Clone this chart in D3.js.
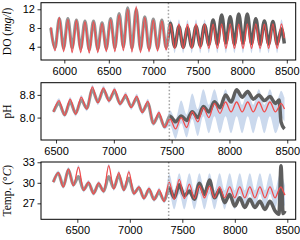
<!DOCTYPE html>
<html>
<head>
<meta charset="utf-8">
<script src="https://cdn.jsdelivr.net/npm/d3@7"></script>
<style>
  body { margin: 0; background: #fff; }
  svg { display: block; font-family: "Liberation Serif", "DejaVu Serif", serif; }
  .tick text { font-size: 11px; fill: #000; }
  .tick line { stroke: #000; stroke-width: 0.8; }
  .ylab { font-size: 11.5px; }
</style>
</head>
<body>
<div id="chart"></div>
<script>
// ---- DO panel (values read at the daily highs / lows, 48 steps apart) ----
const doTimes = d3.range(5848, 8441, 48).concat([8472]);
const doObs = [8.0, 3.8, 10.0, 3.7, 10.0, 3.8, 9.7, 3.6, 9.5, 3.4, 9.5, 3.5, 9.1, 3.6,
  10.0, 3.8, 11.1, 4.0, 12.3, 3.7, 12.0, 3.5, 10.4, 3.6, 9.9, 3.7, 9.7, 3.8,
  9.0, 4.0, 8.3, 3.9, 8.0, 4.0, 8.3, 4.2, 8.6, 4.5, 9.7, 4.6, 10.8, 4.8, 10.4, 4.6,
  11.0, 4.8, 11.0, 4.7, 10.0, 4.5, 9.5, 4.6, 9.4, 4.6, 7.8, 4.7];
const doPred = [8.2, 3.2, 10.2, 3.0, 9.8, 2.8, 9.6, 2.8, 9.3, 2.7, 9.3, 2.8, 9.0, 3.0,
  9.8, 3.0, 10.8, 3.2, 12.0, 2.9, 12.5, 2.8, 10.2, 3.0, 9.7, 3.1, 9.5, 3.3,
  8.9, 3.6, 8.9, 3.6, 8.8, 3.6, 8.9, 3.6, 8.9, 3.6, 8.8, 3.6, 8.9, 3.6, 8.9, 3.6,
  8.8, 3.6, 8.9, 3.6, 8.9, 3.6, 8.8, 3.6, 8.9, 3.6, 8.9, 5.8];
const doHi = [8.6, 3.6, 10.6, 3.4, 10.2, 3.2, 10.0, 3.2, 9.7, 3.1, 9.7, 3.2, 9.4, 3.4,
  10.2, 3.4, 11.2, 3.6, 12.4, 3.3, 12.9, 3.2, 10.6, 3.4, 10.1, 3.5, 9.9, 3.7,
  9.8, 4.5, 9.8, 4.5, 9.7, 4.5, 9.8, 4.5, 9.8, 4.5, 9.7, 4.5, 9.8, 4.5, 9.8, 4.5,
  9.7, 4.5, 9.8, 4.5, 9.8, 4.5, 9.7, 4.5, 9.8, 4.5, 9.8, 6.7];
const doLo = [7.8, 2.8, 9.8, 2.6, 9.4, 2.4, 9.2, 2.4, 8.9, 2.3, 8.9, 2.4, 8.6, 2.6,
  9.4, 2.6, 10.4, 2.8, 11.6, 2.5, 12.1, 2.4, 9.8, 2.6, 9.3, 2.7, 9.1, 2.9,
  8.0, 2.6, 8.0, 2.6, 7.9, 2.6, 8.0, 2.6, 8.0, 2.6, 7.9, 2.6, 8.0, 2.6, 8.0, 2.6,
  7.9, 2.6, 8.0, 2.6, 8.0, 2.6, 7.9, 2.6, 8.0, 2.6, 8.0, 4.9];
const doSplit = 7170;
const doXTicks = [6000, 6500, 7000, 7500, 8000, 8500];
const doYTicks = [4, 8, 12];

// ---- pH panel ----
const phTimes = d3.range(6478, 8399, 48).concat([8430, 8446, 8476]);
const phObs = [8.2, 8.5, 8.1, 8.56, 8.15, 8.62, 8.33, 8.98, 8.56, 8.98, 8.62, 8.92, 8.5, 8.74,
  8.39, 8.68, 8.21, 8.5, 7.8, 8.1, 7.68,
  8.05, 7.85, 8.06, 7.9, 8.21, 8.0, 8.39, 8.2, 8.56, 8.35, 8.8, 8.55, 8.98, 8.72, 8.92,
  8.65, 8.8, 8.6, 8.74, 8.5, 8.62, 7.85, 7.6];
const phPred = [8.2, 8.6, 8.08, 8.65, 8.12, 8.72, 8.3, 9.08, 8.52, 9.05, 8.58, 9.0, 8.47, 8.82,
  8.35, 8.76, 8.18, 8.58, 7.78, 8.18, 7.66,
  7.95, 7.6, 8.0, 7.65, 8.2, 7.85, 8.35, 8.0, 8.5, 8.15, 8.55, 8.2, 8.55, 8.2, 8.55,
  8.2, 8.55, 8.2, 8.55, 8.2, 8.4, 8.5, 8.3];
const phHi = [8.28, 8.68, 8.16, 8.73, 8.2, 8.8, 8.38, 9.16, 8.6, 9.13, 8.66, 9.08, 8.55, 8.9,
  8.43, 8.84, 8.26, 8.66, 7.86, 8.26, 7.74,
  8.25, 7.95, 8.6, 8.1, 8.85, 8.3, 9.0, 8.45, 9.0, 8.45, 9.0, 8.45, 9.0, 8.45, 9.0,
  8.45, 9.0, 8.45, 9.0, 8.45, 8.8, 8.95, 8.7];
const phLo = [8.12, 8.52, 8.0, 8.57, 8.04, 8.64, 8.22, 9.0, 8.44, 8.97, 8.5, 8.92, 8.39, 8.74,
  8.27, 8.68, 8.1, 8.5, 7.7, 8.1, 7.58,
  7.7, 7.25, 7.8, 7.3, 7.95, 7.35, 8.05, 7.45, 8.05, 7.45, 8.05, 7.45, 8.05, 7.45, 8.05,
  7.45, 8.05, 7.45, 8.05, 7.45, 7.75, 8.0, 7.85];
const phSplit = 7480;
const phXTicks = [6500, 7000, 7500, 8000, 8500];
const phYTicks = [8.0, 8.8];

// ---- temperature panel ----
const tTimes = d3.range(6271, 8384, 48).concat([8420, 8440, 8460, 8478]);
const tObs = [30.1, 31.4, 29.5, 31.9, 29.7, 30.9, 29.0, 29.95, 28.5, 29.8, 28.8, 30.9, 29.25,
  31.1, 29.0, 30.7, 28.5, 29.25, 27.8, 29.0, 27.6, 28.6, 27.4,
  29.25, 27.8, 29.7, 28.1, 28.8, 27.6, 29.95, 28.3, 30.4, 27.8, 29.0, 27.1, 28.3, 26.6,
  27.8, 26.4, 27.6, 26.4, 27.3, 26.1, 27.3, 25.9, 25.4, 32.5, 25.5, 25.9];
const tPred = [30.1, 31.5, 29.4, 32.0, 29.6, 32.3, 28.9, 30.1, 28.4, 30.0, 28.7, 32.5, 29.1,
  31.5, 28.9, 31.6, 28.4, 29.4, 27.7, 29.2, 27.5, 29.0, 27.3,
  30.1, 27.6, 30.5, 27.7, 29.8, 27.7, 29.6, 27.8, 29.5, 27.8, 29.4, 27.8, 29.4, 27.8,
  29.4, 27.8, 29.4, 27.8, 29.4, 27.8, 29.4, 27.8, 29.0, 29.4, 28.8, 28.2];
const tHi = [30.4, 31.8, 29.7, 32.3, 29.9, 32.6, 29.2, 30.4, 28.7, 30.3, 29.0, 32.8, 29.4,
  31.8, 29.2, 31.9, 28.7, 29.7, 28.0, 29.5, 27.8, 29.3, 27.6,
  31.3, 28.9, 31.4, 28.9, 31.4, 28.9, 31.4, 28.9, 31.4, 28.9, 31.4, 28.9, 31.4, 28.9,
  31.4, 28.9, 31.4, 28.9, 31.4, 28.9, 31.4, 28.9, 31.0, 31.4, 30.6, 29.6];
const tLo = [29.8, 31.2, 29.1, 31.7, 29.3, 32.0, 28.6, 29.8, 28.1, 29.7, 28.4, 32.2, 28.8,
  31.2, 28.6, 31.3, 28.1, 29.1, 27.4, 28.9, 27.2, 28.7, 27.0,
  28.4, 26.1, 28.4, 26.1, 28.4, 26.1, 28.4, 26.1, 28.4, 26.1, 28.4, 26.1, 28.4, 26.1,
  28.4, 26.1, 28.4, 26.1, 28.4, 26.1, 28.4, 26.1, 28.2, 28.4, 27.2, 26.5];
const tSplit = 7370;
const tXTicks = [6500, 7000, 7500, 8000, 8500];
const tYTicks = [27, 30, 33];

const W = 300, H = 240;
const left = 41, right = 295.7, panelH = 57.3;

const svg = d3.select('#chart').append('svg')
  .attr('width', W).attr('height', H);

const colObsFit = '#959595';
const colObs = '#5e5e5e';
const colPred = '#f24c4c';
const colBand = '#cbd9ed';

let clipId = 0;

function drawPanel(cfg) {
  const top = cfg.top;
  const x = d3.scaleLinear().domain(cfg.xDomain).range([left, right]);
  const y = d3.scaleLinear().domain(cfg.yDomain).range([top + panelH, top]);

  const rows = cfg.times.map((t, i) => ({
    t: t, obs: cfg.obs[i], pred: cfg.pred[i], hi: cfg.hi[i], lo: cfg.lo[i]
  }));

  const g = svg.append('g');

  // clip regions: whole plot, fitted part, forecast part
  const defs = svg.append('defs');
  const cAll = 'c' + (clipId++), cFit = 'c' + (clipId++), cFc = 'c' + (clipId++);
  defs.append('clipPath').attr('id', cAll).append('rect')
    .attr('x', left).attr('y', top).attr('width', right - left).attr('height', panelH);
  defs.append('clipPath').attr('id', cFit).append('rect')
    .attr('x', left).attr('y', top).attr('width', x(cfg.split) - left).attr('height', panelH);
  defs.append('clipPath').attr('id', cFc).append('rect')
    .attr('x', x(cfg.split)).attr('y', top).attr('width', right - x(cfg.split)).attr('height', panelH);

  const band = d3.area()
    .x(d => x(d.t)).y0(d => y(d.lo)).y1(d => y(d.hi))
    .curve(d3.curveMonotoneX);
  const obsLine = d3.line().x(d => x(d.t)).y(d => y(d.obs)).curve(d3.curveMonotoneX);
  const predLine = d3.line().x(d => x(d.t)).y(d => y(d.pred)).curve(d3.curveMonotoneX);

  const plot = g.append('g').attr('clip-path', `url(#${cAll})`);

  plot.append('path').datum(rows)
    .attr('d', band).attr('fill', colBand).attr('stroke', 'none');

  plot.append('path').datum(rows)
    .attr('clip-path', `url(#${cFit})`)
    .attr('d', obsLine).attr('fill', 'none')
    .attr('stroke', colObsFit).attr('stroke-width', 3.2).attr('stroke-linejoin', 'round');
  plot.append('path').datum(rows)
    .attr('clip-path', `url(#${cFc})`)
    .attr('d', obsLine).attr('fill', 'none')
    .attr('stroke', colObs).attr('stroke-width', 3.5).attr('stroke-linejoin', 'round');

  plot.append('path').datum(rows)
    .attr('d', predLine).attr('fill', 'none')
    .attr('stroke', colPred).attr('stroke-width', 1.3);

  // dotted marker where the forecast starts
  g.append('line')
    .attr('x1', x(cfg.split)).attr('x2', x(cfg.split))
    .attr('y1', top).attr('y2', top + panelH)
    .attr('stroke', '#a0a0a0').attr('stroke-width', 1.5)
    .attr('stroke-dasharray', '1.5,2');

  // axes
  const xAxis = d3.axisBottom(x).tickValues(cfg.xTicks).tickSize(3.5).tickPadding(3.5)
    .tickFormat(d3.format('d'));
  const yAxis = d3.axisLeft(y).tickValues(cfg.yTicks).tickSize(3.5).tickPadding(2.5)
    .tickFormat(cfg.yFormat);
  g.append('g').attr('transform', `translate(0,${top + panelH})`).call(xAxis)
    .call(a => a.select('.domain').remove());
  g.append('g').attr('transform', `translate(${left},0)`).call(yAxis)
    .call(a => a.select('.domain').remove());

  g.append('rect')
    .attr('x', left).attr('y', top).attr('width', right - left).attr('height', panelH)
    .attr('fill', 'none').attr('stroke', '#000').attr('stroke-width', 1);

  // y label
  const lab = g.append('text').attr('class', 'ylab')
    .attr('text-anchor', 'middle')
    .attr('transform', `translate(10.5,${top + panelH / 2}) rotate(-90)`);
  cfg.label.forEach(p => {
    lab.append('tspan').attr('font-style', p.it ? 'italic' : 'normal').text(p.s);
  });
}

drawPanel({
  top: 2.7, times: doTimes, obs: doObs, pred: doPred, hi: doHi, lo: doLo,
  split: doSplit, xDomain: [5738, 8600], yDomain: [1.155, 13.41],
  xTicks: doXTicks, yTicks: doYTicks, yFormat: d3.format('d'),
  label: [{ s: 'DO (' }, { s: 'mg/l', it: true }, { s: ')' }]
});
drawPanel({
  top: 82.7, times: phTimes, obs: phObs, pred: phPred, hi: phHi, lo: phLo,
  split: phSplit, xDomain: [6370, 8573], yDomain: [7.21, 9.23],
  xTicks: phXTicks, yTicks: phYTicks, yFormat: d3.format('.1f'),
  label: [{ s: 'pH' }]
});
drawPanel({
  top: 162, times: tTimes, obs: tObs, pred: tPred, hi: tHi, lo: tLo,
  split: tSplit, xDomain: [6154, 8580], yDomain: [24.67, 33.04],
  xTicks: tXTicks, yTicks: tYTicks, yFormat: d3.format('d'),
  label: [{ s: 'Temp. (°' }, { s: 'C', it: true }, { s: ')' }]
});
</script>
</body>
</html>
